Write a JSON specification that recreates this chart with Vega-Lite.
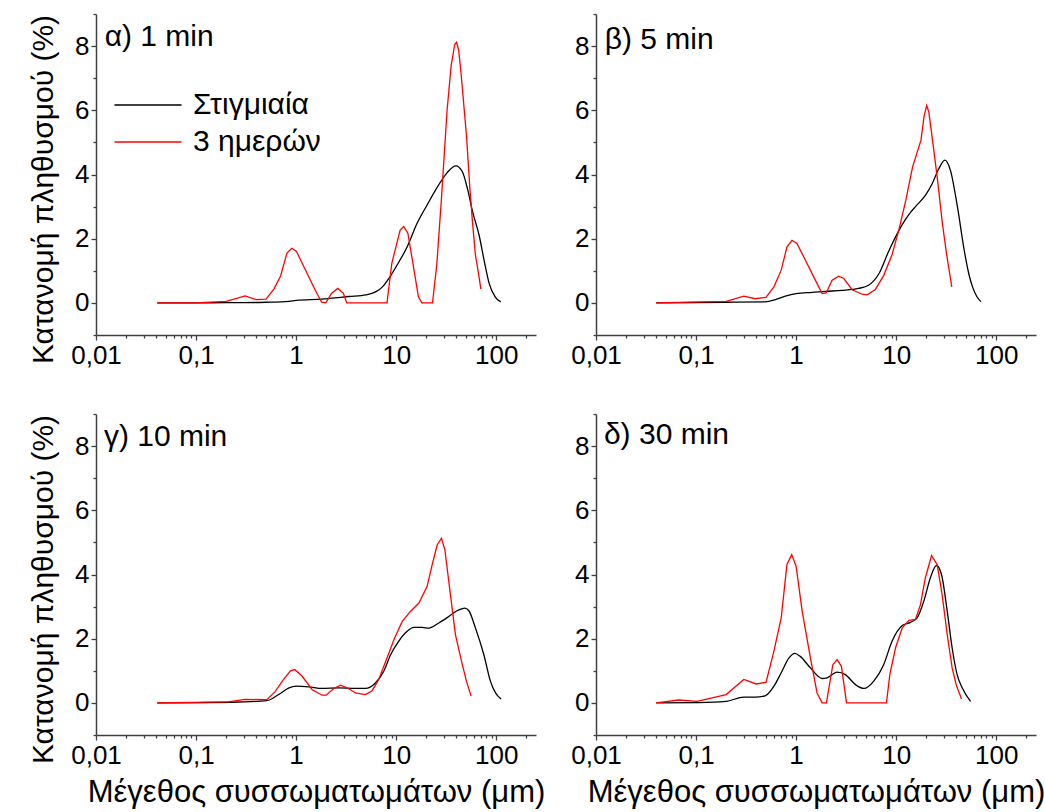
{
"$schema": "https://vega.github.io/schema/vega-lite/v6.json",
"padding": {"left": 28, "top": 13, "right": 3, "bottom": 3},
"config": {
  "font": "Liberation Sans",
  "view": {"stroke": null},
  "axis": {"grid": false, "domainColor": "#404040", "domainWidth": 1.5, "tickColor": "#404040", "tickWidth": 1.3, "labelColor": "#000000", "labelFont": "Liberation Sans", "labelFontSize": 26, "titleFont": "Liberation Sans", "titleFontSize": 30, "titleFontWeight": "normal", "titleColor": "#000000", "labelFlush": false, "labelOverlap": false}
},
"datasets": {
"curves": [
{"p":"a","s":"Στιγμιαία","x":0.041,"y":0},{"p":"a","s":"Στιγμιαία","x":0.1,"y":0},{"p":"a","s":"Στιγμιαία","x":0.2,"y":0.01},{"p":"a","s":"Στιγμιαία","x":0.3,"y":0.01},{"p":"a","s":"Στιγμιαία","x":0.5,"y":0.02},{"p":"a","s":"Στιγμιαία","x":0.85,"y":0.05},{"p":"a","s":"Στιγμιαία","x":1.0,"y":0.08},{"p":"a","s":"Στιγμιαία","x":1.8,"y":0.12},{"p":"a","s":"Στιγμιαία","x":3.4,"y":0.2},{"p":"a","s":"Στιγμιαία","x":5,"y":0.25},{"p":"a","s":"Στιγμιαία","x":6.3,"y":0.35},{"p":"a","s":"Στιγμιαία","x":7.3,"y":0.5},{"p":"a","s":"Στιγμιαία","x":8.5,"y":0.77},{"p":"a","s":"Στιγμιαία","x":10,"y":1.13},{"p":"a","s":"Στιγμιαία","x":12.9,"y":1.75},{"p":"a","s":"Στιγμιαία","x":16.2,"y":2.48},{"p":"a","s":"Στιγμιαία","x":20.4,"y":3.05},{"p":"a","s":"Στιγμιαία","x":25.7,"y":3.6},{"p":"a","s":"Στιγμιαία","x":32.4,"y":4.06},{"p":"a","s":"Στιγμιαία","x":39.5,"y":4.27},{"p":"a","s":"Στιγμιαία","x":45.7,"y":4.1},{"p":"a","s":"Στιγμιαία","x":51.7,"y":3.55},{"p":"a","s":"Στιγμιαία","x":58,"y":2.85},{"p":"a","s":"Στιγμιαία","x":67.6,"y":2.1},{"p":"a","s":"Στιγμιαία","x":76,"y":1.3},{"p":"a","s":"Στιγμιαία","x":85,"y":0.61},{"p":"a","s":"Στιγμιαία","x":98,"y":0.18},{"p":"a","s":"Στιγμιαία","x":111,"y":0.03},
{"p":"a","s":"3 ημερών","x":0.041,"y":0},{"p":"a","s":"3 ημερών","x":0.1,"y":0},{"p":"a","s":"3 ημερών","x":0.2,"y":0.05},{"p":"a","s":"3 ημερών","x":0.31,"y":0.22},{"p":"a","s":"3 ημερών","x":0.4,"y":0.1},{"p":"a","s":"3 ημερών","x":0.5,"y":0.12},{"p":"a","s":"3 ημερών","x":0.6,"y":0.43},{"p":"a","s":"3 ημερών","x":0.7,"y":0.84},{"p":"a","s":"3 ημερών","x":0.81,"y":1.55},{"p":"a","s":"3 ημερών","x":0.905,"y":1.7},{"p":"a","s":"3 ημερών","x":1.01,"y":1.6},{"p":"a","s":"3 ημερών","x":1.23,"y":1.05},{"p":"a","s":"3 ημερών","x":1.55,"y":0.4},{"p":"a","s":"3 ημερών","x":1.8,"y":0.02},{"p":"a","s":"3 ημερών","x":1.98,"y":0},{"p":"a","s":"3 ημερών","x":2.27,"y":0.3},{"p":"a","s":"3 ημερών","x":2.61,"y":0.45},{"p":"a","s":"3 ημερών","x":2.97,"y":0.3},{"p":"a","s":"3 ημερών","x":3.21,"y":0},{"p":"a","s":"3 ημερών","x":8.1,"y":0},{"p":"a","s":"3 ημερών","x":9.05,"y":1.23},{"p":"a","s":"3 ημερών","x":10.97,"y":2.27},{"p":"a","s":"3 ημερών","x":11.9,"y":2.38},{"p":"a","s":"3 ημερών","x":13.1,"y":2.17},{"p":"a","s":"3 ημερών","x":14.9,"y":1.13},{"p":"a","s":"3 ημερών","x":16.7,"y":0.19},{"p":"a","s":"3 ημερών","x":18.1,"y":0},{"p":"a","s":"3 ημερών","x":23.1,"y":0},{"p":"a","s":"3 ημερών","x":25.5,"y":1.2},{"p":"a","s":"3 ημερών","x":28.3,"y":3.2},{"p":"a","s":"3 ημερών","x":32.3,"y":6.0},{"p":"a","s":"3 ημερών","x":35.5,"y":7.4},{"p":"a","s":"3 ημερών","x":38.5,"y":8.05},{"p":"a","s":"3 ημερών","x":40.2,"y":8.12},{"p":"a","s":"3 ημερών","x":42.3,"y":7.85},{"p":"a","s":"3 ημερών","x":45,"y":7.0},{"p":"a","s":"3 ημερών","x":50.5,"y":5.2},{"p":"a","s":"3 ημερών","x":54.5,"y":3.6},{"p":"a","s":"3 ημερών","x":58,"y":2.5},{"p":"a","s":"3 ημερών","x":62,"y":1.5},{"p":"a","s":"3 ημερών","x":66.5,"y":0.93},{"p":"a","s":"3 ημερών","x":70.3,"y":0.43},
{"p":"b","s":"Στιγμιαία","x":0.04,"y":0},{"p":"b","s":"Στιγμιαία","x":0.2,"y":0.02},{"p":"b","s":"Στιγμιαία","x":0.49,"y":0.03},{"p":"b","s":"Στιγμιαία","x":0.62,"y":0.1},{"p":"b","s":"Στιγμιαία","x":0.78,"y":0.21},{"p":"b","s":"Στιγμιαία","x":1.0,"y":0.29},{"p":"b","s":"Στιγμιαία","x":1.45,"y":0.33},{"p":"b","s":"Στιγμιαία","x":1.97,"y":0.36},{"p":"b","s":"Στιγμιαία","x":2.88,"y":0.39},{"p":"b","s":"Στιγμιαία","x":4.2,"y":0.45},{"p":"b","s":"Στιγμιαία","x":5.3,"y":0.55},{"p":"b","s":"Στιγμιαία","x":6.7,"y":0.9},{"p":"b","s":"Στιγμιαία","x":8.4,"y":1.6},{"p":"b","s":"Στιγμιαία","x":9.85,"y":2.05},{"p":"b","s":"Στιγμιαία","x":12.4,"y":2.6},{"p":"b","s":"Στιγμιαία","x":14,"y":2.83},{"p":"b","s":"Στιγμιαία","x":15.6,"y":3.0},{"p":"b","s":"Στιγμιαία","x":19.6,"y":3.35},{"p":"b","s":"Στιγμιαία","x":22.9,"y":3.71},{"p":"b","s":"Στιγμιαία","x":26.7,"y":4.18},{"p":"b","s":"Στιγμιαία","x":30.7,"y":4.45},{"p":"b","s":"Στιγμιαία","x":34.9,"y":4.13},{"p":"b","s":"Στιγμιαία","x":41,"y":2.99},{"p":"b","s":"Στιγμιαία","x":47.9,"y":1.64},{"p":"b","s":"Στιγμιαία","x":53.3,"y":0.9},{"p":"b","s":"Στιγμιαία","x":58,"y":0.5},{"p":"b","s":"Στιγμιαία","x":64,"y":0.2},{"p":"b","s":"Στιγμιαία","x":70.3,"y":0.04},
{"p":"b","s":"3 ημερών","x":0.04,"y":0},{"p":"b","s":"3 ημερών","x":0.2,"y":0.05},{"p":"b","s":"3 ημερών","x":0.3,"y":0.21},{"p":"b","s":"3 ημερών","x":0.39,"y":0.13},{"p":"b","s":"3 ημερών","x":0.5,"y":0.17},{"p":"b","s":"3 ημερών","x":0.6,"y":0.5},{"p":"b","s":"3 ημερών","x":0.71,"y":1.02},{"p":"b","s":"3 ημερών","x":0.81,"y":1.74},{"p":"b","s":"3 ημερών","x":0.91,"y":1.95},{"p":"b","s":"3 ημερών","x":1.02,"y":1.85},{"p":"b","s":"3 ημερών","x":1.24,"y":1.33},{"p":"b","s":"3 ημερών","x":1.5,"y":0.81},{"p":"b","s":"3 ημερών","x":1.82,"y":0.29},{"p":"b","s":"3 ημερών","x":2.0,"y":0.31},{"p":"b","s":"3 ημερών","x":2.29,"y":0.71},{"p":"b","s":"3 ημερών","x":2.67,"y":0.83},{"p":"b","s":"3 ημερών","x":3.0,"y":0.76},{"p":"b","s":"3 ημερών","x":3.63,"y":0.41},{"p":"b","s":"3 ημερών","x":4.57,"y":0.27},{"p":"b","s":"3 ημερών","x":5.13,"y":0.25},{"p":"b","s":"3 ημερών","x":6.2,"y":0.42},{"p":"b","s":"3 ημερών","x":7.5,"y":0.85},{"p":"b","s":"3 ημερών","x":9.1,"y":1.5},{"p":"b","s":"3 ημερών","x":10.7,"y":2.3},{"p":"b","s":"3 ημερών","x":12.5,"y":3.2},{"p":"b","s":"3 ημερών","x":14.6,"y":4.24},{"p":"b","s":"3 ημερών","x":17.7,"y":5.07},{"p":"b","s":"3 ημερών","x":19.0,"y":5.8},{"p":"b","s":"3 ημερών","x":20.2,"y":6.15},{"p":"b","s":"3 ημερών","x":21.2,"y":5.95},{"p":"b","s":"3 ημερών","x":23.1,"y":5.07},{"p":"b","s":"3 ημερών","x":26,"y":3.8},{"p":"b","s":"3 ημερών","x":29,"y":2.47},{"p":"b","s":"3 ημερών","x":32,"y":1.5},{"p":"b","s":"3 ημερών","x":36,"y":0.5},
{"p":"c","s":"Στιγμιαία","x":0.041,"y":0},{"p":"c","s":"Στιγμιαία","x":0.23,"y":0.02},{"p":"c","s":"Στιγμιαία","x":0.51,"y":0.07},{"p":"c","s":"Στιγμιαία","x":0.67,"y":0.26},{"p":"c","s":"Στιγμιαία","x":0.85,"y":0.47},{"p":"c","s":"Στιγμιαία","x":1.0,"y":0.52},{"p":"c","s":"Στιγμιαία","x":1.34,"y":0.5},{"p":"c","s":"Στιγμιαία","x":1.82,"y":0.45},{"p":"c","s":"Στιγμιαία","x":2.67,"y":0.47},{"p":"c","s":"Στιγμιαία","x":3.92,"y":0.45},{"p":"c","s":"Στιγμιαία","x":4.93,"y":0.45},{"p":"c","s":"Στιγμιαία","x":6.2,"y":0.62},{"p":"c","s":"Στιγμιαία","x":7.5,"y":0.98},{"p":"c","s":"Στιγμιαία","x":8.8,"y":1.5},{"p":"c","s":"Στιγμιαία","x":10.6,"y":1.92},{"p":"c","s":"Στιγμιαία","x":12.9,"y":2.23},{"p":"c","s":"Στιγμιαία","x":15,"y":2.35},{"p":"c","s":"Στιγμιαία","x":18.2,"y":2.35},{"p":"c","s":"Στιγμιαία","x":21.2,"y":2.33},{"p":"c","s":"Στιγμιαία","x":26.7,"y":2.49},{"p":"c","s":"Στιγμιαία","x":33.6,"y":2.69},{"p":"c","s":"Στιγμιαία","x":40.7,"y":2.87},{"p":"c","s":"Στιγμιαία","x":48.6,"y":2.95},{"p":"c","s":"Στιγμιαία","x":53.3,"y":2.87},{"p":"c","s":"Στιγμιαία","x":62.1,"y":2.33},{"p":"c","s":"Στιγμιαία","x":75.3,"y":1.5},{"p":"c","s":"Στιγμιαία","x":87.7,"y":0.67},{"p":"c","s":"Στιγμιαία","x":98.5,"y":0.31},{"p":"c","s":"Στιγμιαία","x":112,"y":0.12},
{"p":"c","s":"3 ημερών","x":0.041,"y":0},{"p":"c","s":"3 ημερών","x":0.21,"y":0.03},{"p":"c","s":"3 ημερών","x":0.31,"y":0.11},{"p":"c","s":"3 ημερών","x":0.51,"y":0.1},{"p":"c","s":"3 ημερών","x":0.62,"y":0.36},{"p":"c","s":"3 ημερών","x":0.75,"y":0.73},{"p":"c","s":"3 ημερών","x":0.88,"y":1.0},{"p":"c","s":"3 ημερών","x":0.97,"y":1.04},{"p":"c","s":"3 ημερών","x":1.15,"y":0.83},{"p":"c","s":"3 ημερών","x":1.45,"y":0.41},{"p":"c","s":"3 ημερών","x":1.82,"y":0.24},{"p":"c","s":"3 ημερών","x":2.0,"y":0.24},{"p":"c","s":"3 ημερών","x":2.38,"y":0.45},{"p":"c","s":"3 ημερών","x":2.78,"y":0.55},{"p":"c","s":"3 ημερών","x":3.24,"y":0.47},{"p":"c","s":"3 ημερών","x":3.92,"y":0.31},{"p":"c","s":"3 ημερών","x":4.93,"y":0.26},{"p":"c","s":"3 ημερών","x":5.75,"y":0.38},{"p":"c","s":"3 ημερών","x":6.7,"y":0.73},{"p":"c","s":"3 ημερών","x":8.1,"y":1.4},{"p":"c","s":"3 ημερών","x":9.5,"y":1.97},{"p":"c","s":"3 ημερών","x":11.5,"y":2.54},{"p":"c","s":"3 ημερών","x":13.9,"y":2.85},{"p":"c","s":"3 ημερών","x":16.9,"y":3.11},{"p":"c","s":"3 ημερών","x":20.4,"y":3.63},{"p":"c","s":"3 ημερών","x":22.9,"y":4.3},{"p":"c","s":"3 ημερών","x":25.7,"y":4.92},{"p":"c","s":"3 ημερών","x":28.4,"y":5.13},{"p":"c","s":"3 ημερών","x":30.7,"y":4.77},{"p":"c","s":"3 ημερών","x":34.9,"y":3.37},{"p":"c","s":"3 ημερών","x":39.2,"y":2.12},{"p":"c","s":"3 ημερών","x":45,"y":1.3},{"p":"c","s":"3 ημερών","x":50.5,"y":0.67},{"p":"c","s":"3 ημερών","x":56.2,"y":0.21},
{"p":"d","s":"Στιγμιαία","x":0.04,"y":0},{"p":"d","s":"Στιγμιαία","x":0.106,"y":0.01},{"p":"d","s":"Στιγμιαία","x":0.2,"y":0.05},{"p":"d","s":"Στιγμιαία","x":0.3,"y":0.18},{"p":"d","s":"Στιγμιαία","x":0.39,"y":0.18},{"p":"d","s":"Στιγμιαία","x":0.49,"y":0.22},{"p":"d","s":"Στιγμιαία","x":0.6,"y":0.52},{"p":"d","s":"Στιγμιαία","x":0.71,"y":0.94},{"p":"d","s":"Στιγμιαία","x":0.85,"y":1.4},{"p":"d","s":"Στιγμιαία","x":0.97,"y":1.54},{"p":"d","s":"Στιγμιαία","x":1.1,"y":1.45},{"p":"d","s":"Στιγμιαία","x":1.39,"y":1.09},{"p":"d","s":"Στιγμιαία","x":1.82,"y":0.76},{"p":"d","s":"Στιγμιαία","x":2.04,"y":0.78},{"p":"d","s":"Στιγμιαία","x":2.57,"y":0.96},{"p":"d","s":"Στιγμιαία","x":3.11,"y":0.88},{"p":"d","s":"Στιγμιαία","x":3.92,"y":0.57},{"p":"d","s":"Στιγμιαία","x":4.75,"y":0.45},{"p":"d","s":"Στιγμιαία","x":5.98,"y":0.68},{"p":"d","s":"Στιγμιαία","x":7.5,"y":1.19},{"p":"d","s":"Στιγμιαία","x":9.1,"y":1.92},{"p":"d","s":"Στιγμιαία","x":11.5,"y":2.41},{"p":"d","s":"Στιγμιαία","x":13.9,"y":2.51},{"p":"d","s":"Στιγμιαία","x":16.2,"y":2.65},{"p":"d","s":"Στιγμιαία","x":18.9,"y":3.17},{"p":"d","s":"Στιγμιαία","x":22,"y":3.9},{"p":"d","s":"Στιγμιαία","x":25.3,"y":4.28},{"p":"d","s":"Στιγμιαία","x":28.4,"y":4.0},{"p":"d","s":"Στιγμιαία","x":32.4,"y":2.86},{"p":"d","s":"Στιγμιαία","x":36.3,"y":1.71},{"p":"d","s":"Στιγμιαία","x":40.7,"y":0.88},{"p":"d","s":"Στιγμιαία","x":45.7,"y":0.47},{"p":"d","s":"Στιγμιαία","x":55.4,"y":0.05},
{"p":"d","s":"3 ημερών","x":0.04,"y":0},{"p":"d","s":"3 ημερών","x":0.067,"y":0.09},{"p":"d","s":"3 ημερών","x":0.102,"y":0.05},{"p":"d","s":"3 ημερών","x":0.2,"y":0.26},{"p":"d","s":"3 ημερών","x":0.3,"y":0.73},{"p":"d","s":"3 ημερών","x":0.4,"y":0.59},{"p":"d","s":"3 ημερών","x":0.5,"y":0.64},{"p":"d","s":"3 ημερών","x":0.59,"y":1.51},{"p":"d","s":"3 ημερών","x":0.71,"y":2.65},{"p":"d","s":"3 ημερών","x":0.81,"y":4.31},{"p":"d","s":"3 ημερών","x":0.905,"y":4.62},{"p":"d","s":"3 ημερών","x":1.0,"y":4.26},{"p":"d","s":"3 ημερών","x":1.15,"y":2.86},{"p":"d","s":"3 ημερών","x":1.39,"y":1.4},{"p":"d","s":"3 ημερών","x":1.62,"y":0.31},{"p":"d","s":"3 ημερών","x":1.82,"y":0},{"p":"d","s":"3 ημερών","x":2.01,"y":0},{"p":"d","s":"3 ημερών","x":2.33,"y":1.19},{"p":"d","s":"3 ημερών","x":2.57,"y":1.35},{"p":"d","s":"3 ημερών","x":2.84,"y":1.14},{"p":"d","s":"3 ημερών","x":3.19,"y":0},{"p":"d","s":"3 ημερών","x":8.0,"y":0},{"p":"d","s":"3 ημερών","x":8.65,"y":0.88},{"p":"d","s":"3 ημερών","x":9.85,"y":1.71},{"p":"d","s":"3 ημερών","x":11.5,"y":2.34},{"p":"d","s":"3 ημερών","x":13.4,"y":2.57},{"p":"d","s":"3 ημερών","x":15.6,"y":2.6},{"p":"d","s":"3 ημερών","x":17.5,"y":3.06},{"p":"d","s":"3 ημερών","x":19.6,"y":3.9},{"p":"d","s":"3 ημερών","x":22.6,"y":4.59},{"p":"d","s":"3 ημερών","x":25.7,"y":4.31},{"p":"d","s":"3 ημερών","x":28.8,"y":3.38},{"p":"d","s":"3 ημερών","x":32.4,"y":2.13},{"p":"d","s":"3 ημερών","x":36.3,"y":1.09},{"p":"d","s":"3 ημερών","x":39.8,"y":0.57},{"p":"d","s":"3 ημερών","x":45,"y":0.12}
]
},
"columns": 2,
"spacing": {"row": 79, "column": 60},
"bounds": "flush",
"concat": [
{
  "width": 440, "height": 321,
  "layer": [
    {"data": {"name": "curves"}, "transform": [{"filter": "datum.p == 'a' && datum.s == 'Στιγμιαία'"}],
     "mark": {"type": "line", "interpolate": "monotone", "strokeWidth": 1.3},
     "encoding": {
       "x": {"field": "x", "type": "quantitative", "scale": {"type": "log", "domain": [0.01, 250]}, "axis": {"orient": "bottom", "values": [0.01, 0.1, 1, 10, 100], "labelExpr": "replace(format(datum.value, '~g'), '.', ',')", "tickSize": 5, "labelPadding": 2, "title": null}},
       "y": {"field": "y", "type": "quantitative", "scale": {"domain": [-1, 9]}, "axis": {"orient": "left", "values": [0, 2, 4, 6, 8], "format": "d", "tickSize": 5, "labelPadding": 2, "title": "Κατανομή πληθυσμού (%)", "titlePadding": 16, "titleY": 175}},
       "color": {"field": "s", "type": "nominal", "scale": {"domain": ["Στιγμιαία", "3 ημερών"], "range": ["#000000", "#ff0000"]},
         "legend": {"orient": "none", "legendX": 37, "legendY": 76, "title": null, "symbolType": "M-5,0H5", "symbolSize": 180, "symbolStrokeWidth": 1.3, "labelFontSize": 30, "labelFont": "Liberation Sans", "labelColor": "#000000", "labelOffset": 30, "rowPadding": 7, "padding": 0}}
     }},
    {"data": {"name": "curves"}, "transform": [{"filter": "datum.p == 'a' && datum.s == '3 ημερών'"}],
     "mark": {"type": "line", "strokeWidth": 1.3, "color": "#ff0000"},
     "encoding": {
       "x": {"field": "x", "type": "quantitative", "scale": {"type": "log", "domain": [0.01, 250]}, "axis": null},
       "y": {"field": "y", "type": "quantitative", "scale": {"domain": [-1, 9]}, "axis": null}
     }},
    {"data": {"values": [{}]},
     "mark": {"type": "text", "align": "left", "baseline": "alphabetic", "fontSize": 30, "font": "Liberation Sans", "color": "#000000"},
     "encoding": {
       "x": {"datum": 0.0122, "type": "quantitative", "scale": {"type": "log", "domain": [0.01, 250]}, "axis": {"orient": "bottom", "values": [0.02,0.03,0.04,0.05,0.06,0.07,0.08,0.09,0.2,0.3,0.4,0.5,0.6,0.7,0.8,0.9,2,3,4,5,6,7,8,9,20,30,40,50,60,70,80,90,200], "labels": false, "domain": false, "tickSize": 3, "title": null}},
       "y": {"datum": 8.0, "type": "quantitative", "scale": {"domain": [-1, 9]}, "axis": {"orient": "left", "values": [-1, 1, 3, 5, 7, 9], "labels": false, "domain": false, "tickSize": 3, "title": null}},
       "text": {"value": "α) 1 min"}
     }}
  ],
  "resolve": {"axis": {"x": "independent", "y": "independent"}}
},
{
  "width": 440, "height": 321,
  "layer": [
    {"data": {"name": "curves"}, "transform": [{"filter": "datum.p == 'b' && datum.s == 'Στιγμιαία'"}],
     "mark": {"type": "line", "interpolate": "monotone", "strokeWidth": 1.3, "color": "#000000"},
     "encoding": {
       "x": {"field": "x", "type": "quantitative", "scale": {"type": "log", "domain": [0.01, 250]}, "axis": {"orient": "bottom", "values": [0.01, 0.1, 1, 10, 100], "labelExpr": "replace(format(datum.value, '~g'), '.', ',')", "tickSize": 5, "labelPadding": 2, "title": null}},
       "y": {"field": "y", "type": "quantitative", "scale": {"domain": [-1, 9]}, "axis": {"orient": "left", "values": [0, 2, 4, 6, 8], "format": "d", "tickSize": 5, "labelPadding": 2, "title": null}}
     }},
    {"data": {"name": "curves"}, "transform": [{"filter": "datum.p == 'b' && datum.s == '3 ημερών'"}],
     "mark": {"type": "line", "strokeWidth": 1.3, "color": "#ff0000"},
     "encoding": {
       "x": {"field": "x", "type": "quantitative", "scale": {"type": "log", "domain": [0.01, 250]}, "axis": null},
       "y": {"field": "y", "type": "quantitative", "scale": {"domain": [-1, 9]}, "axis": null}
     }},
    {"data": {"values": [{}]},
     "mark": {"type": "text", "align": "left", "baseline": "alphabetic", "fontSize": 30, "font": "Liberation Sans", "color": "#000000"},
     "encoding": {
       "x": {"datum": 0.0122, "type": "quantitative", "scale": {"type": "log", "domain": [0.01, 250]}, "axis": {"orient": "bottom", "values": [0.02,0.03,0.04,0.05,0.06,0.07,0.08,0.09,0.2,0.3,0.4,0.5,0.6,0.7,0.8,0.9,2,3,4,5,6,7,8,9,20,30,40,50,60,70,80,90,200], "labels": false, "domain": false, "tickSize": 3, "title": null}},
       "y": {"datum": 7.9, "type": "quantitative", "scale": {"domain": [-1, 9]}, "axis": {"orient": "left", "values": [-1, 1, 3, 5, 7, 9], "labels": false, "domain": false, "tickSize": 3, "title": null}},
       "text": {"value": "β) 5 min"}
     }}
  ],
  "resolve": {"axis": {"x": "independent", "y": "independent"}}
},
{
  "width": 440, "height": 321,
  "layer": [
    {"data": {"name": "curves"}, "transform": [{"filter": "datum.p == 'c' && datum.s == 'Στιγμιαία'"}],
     "mark": {"type": "line", "interpolate": "monotone", "strokeWidth": 1.3, "color": "#000000"},
     "encoding": {
       "x": {"field": "x", "type": "quantitative", "scale": {"type": "log", "domain": [0.01, 250]}, "axis": {"orient": "bottom", "values": [0.01, 0.1, 1, 10, 100], "labelExpr": "replace(format(datum.value, '~g'), '.', ',')", "tickSize": 5, "labelPadding": 2, "title": "Μέγεθος συσσωματωμάτων (μm)", "titlePadding": 9, "titleFontSize": 31}},
       "y": {"field": "y", "type": "quantitative", "scale": {"domain": [-1, 9]}, "axis": {"orient": "left", "values": [0, 2, 4, 6, 8], "format": "d", "tickSize": 5, "labelPadding": 2, "title": "Κατανομή πληθυσμού (%)", "titlePadding": 16, "titleY": 175}}
     }},
    {"data": {"name": "curves"}, "transform": [{"filter": "datum.p == 'c' && datum.s == '3 ημερών'"}],
     "mark": {"type": "line", "strokeWidth": 1.3, "color": "#ff0000"},
     "encoding": {
       "x": {"field": "x", "type": "quantitative", "scale": {"type": "log", "domain": [0.01, 250]}, "axis": null},
       "y": {"field": "y", "type": "quantitative", "scale": {"domain": [-1, 9]}, "axis": null}
     }},
    {"data": {"values": [{}]},
     "mark": {"type": "text", "align": "left", "baseline": "alphabetic", "fontSize": 30, "font": "Liberation Sans", "color": "#000000"},
     "encoding": {
       "x": {"datum": 0.012, "type": "quantitative", "scale": {"type": "log", "domain": [0.01, 250]}, "axis": {"orient": "bottom", "values": [0.02,0.03,0.04,0.05,0.06,0.07,0.08,0.09,0.2,0.3,0.4,0.5,0.6,0.7,0.8,0.9,2,3,4,5,6,7,8,9,20,30,40,50,60,70,80,90,200], "labels": false, "domain": false, "tickSize": 3, "title": null}},
       "y": {"datum": 8.0, "type": "quantitative", "scale": {"domain": [-1, 9]}, "axis": {"orient": "left", "values": [-1, 1, 3, 5, 7, 9], "labels": false, "domain": false, "tickSize": 3, "title": null}},
       "text": {"value": "γ) 10 min"}
     }}
  ],
  "resolve": {"axis": {"x": "independent", "y": "independent"}}
},
{
  "width": 440, "height": 321,
  "layer": [
    {"data": {"name": "curves"}, "transform": [{"filter": "datum.p == 'd' && datum.s == 'Στιγμιαία'"}],
     "mark": {"type": "line", "interpolate": "monotone", "strokeWidth": 1.3, "color": "#000000"},
     "encoding": {
       "x": {"field": "x", "type": "quantitative", "scale": {"type": "log", "domain": [0.01, 250]}, "axis": {"orient": "bottom", "values": [0.01, 0.1, 1, 10, 100], "labelExpr": "replace(format(datum.value, '~g'), '.', ',')", "tickSize": 5, "labelPadding": 2, "title": "Μέγεθος συσσωματωμάτων (μm)", "titlePadding": 9, "titleFontSize": 31}},
       "y": {"field": "y", "type": "quantitative", "scale": {"domain": [-1, 9]}, "axis": {"orient": "left", "values": [0, 2, 4, 6, 8], "format": "d", "tickSize": 5, "labelPadding": 2, "title": null}}
     }},
    {"data": {"name": "curves"}, "transform": [{"filter": "datum.p == 'd' && datum.s == '3 ημερών'"}],
     "mark": {"type": "line", "strokeWidth": 1.3, "color": "#ff0000"},
     "encoding": {
       "x": {"field": "x", "type": "quantitative", "scale": {"type": "log", "domain": [0.01, 250]}, "axis": null},
       "y": {"field": "y", "type": "quantitative", "scale": {"domain": [-1, 9]}, "axis": null}
     }},
    {"data": {"values": [{}]},
     "mark": {"type": "text", "align": "left", "baseline": "alphabetic", "fontSize": 30, "font": "Liberation Sans", "color": "#000000"},
     "encoding": {
       "x": {"datum": 0.012, "type": "quantitative", "scale": {"type": "log", "domain": [0.01, 250]}, "axis": {"orient": "bottom", "values": [0.02,0.03,0.04,0.05,0.06,0.07,0.08,0.09,0.2,0.3,0.4,0.5,0.6,0.7,0.8,0.9,2,3,4,5,6,7,8,9,20,30,40,50,60,70,80,90,200], "labels": false, "domain": false, "tickSize": 3, "title": null}},
       "y": {"datum": 8.05, "type": "quantitative", "scale": {"domain": [-1, 9]}, "axis": {"orient": "left", "values": [-1, 1, 3, 5, 7, 9], "labels": false, "domain": false, "tickSize": 3, "title": null}},
       "text": {"value": "δ) 30 min"}
     }}
  ],
  "resolve": {"axis": {"x": "independent", "y": "independent"}}
}
]
}
